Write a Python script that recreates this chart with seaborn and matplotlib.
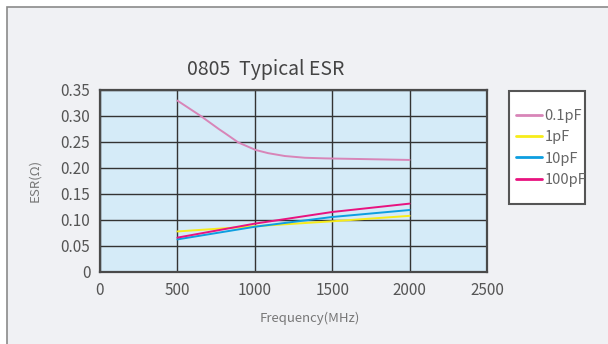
import numpy as np
import pandas as pd
import matplotlib
matplotlib.use("Agg")
import matplotlib.pyplot as plt
from matplotlib.patches import Rectangle
from matplotlib.lines import Line2D
import seaborn as sns

# ---- data ----
freq_01 = [500, 651, 769, 807, 894, 1006, 1087, 1195, 1324, 1453, 2000]
esr_01 = [0.3296, 0.300, 0.2746, 0.267, 0.249, 0.2346, 0.2285, 0.223, 0.2197, 0.2185, 0.2155]
freq_lin = [500, 1000, 1500, 2000]
esr_1 = [0.078, 0.088, 0.0975, 0.108]
esr_10 = [0.0627, 0.087, 0.1058, 0.1192]
esr_100 = [0.0661, 0.093, 0.1154, 0.1315]
series = ["0.1pF", "1pF", "10pF", "100pF"]
colors = ["#d885b8", "#f7ec1a", "#0d9ee0", "#e8137f"]
x_ticks = [0, 500, 1000, 1500, 2000, 2500]
y_ticks = [0, 0.05, 0.10, 0.15, 0.20, 0.25, 0.30, 0.35]
y_labels = ["0", "0.05", "0.10", "0.15", "0.20", "0.25", "0.30", "0.35"]

rows = []
for f, v in zip(freq_01, esr_01):
    rows.append((f, v, "0.1pF"))
for name, vals in zip(series[1:], [esr_1, esr_10, esr_100]):
    for f, v in zip(freq_lin, vals):
        rows.append((f, v, name))
df = pd.DataFrame(rows, columns=["freq", "esr", "cap"])

sns.set_style("white")
plt.rcParams["font.family"] = ["Noto Sans CJK SC", "DejaVu Sans"]
plt.rcParams["font.weight"] = "light"

W, H = 608, 344
fig = plt.figure(figsize=(W / 100, H / 100), dpi=100)
fig.patch.set_facecolor("white")

# background panel
bg = fig.add_axes([0, 0, 1, 1], zorder=-10)
bg.set_xlim(0, W)
bg.set_ylim(H, 0)
bg.axis("off")
bg.add_patch(Rectangle((7, 7), W + 20, H + 20, facecolor="#f0f1f4",
                       edgecolor="#8a8a8a", linewidth=1.2))
# legend box
bg.add_patch(Rectangle((509, 91), 585 - 509, 204 - 91, facecolor="white",
                       edgecolor="#555555", linewidth=1.5))

ax = fig.add_axes([100 / W, (H - 272) / H, (487 - 100) / W, (272 - 90) / H], zorder=5)
ax.set_facecolor("#d5ebf8")
sns.lineplot(data=df, x="freq", y="esr", hue="cap", hue_order=series,
             palette=dict(zip(series, colors)), linewidth=1.4, ax=ax,
             legend=False, sort=True, zorder=3)

ax.set_xlim(0, 2500)
ax.set_ylim(0, 0.35)
ax.set_xticks(x_ticks)
ax.set_yticks(y_ticks)
ax.set_yticklabels(y_labels)
ax.grid(True, color="#333333", linewidth=1.0, zorder=1)
ax.set_axisbelow(True)
for s in ax.spines.values():
    s.set_color("#4a4a4a")
    s.set_linewidth(1.6)
ax.tick_params(length=0, labelsize=11, labelcolor="#555555", pad=7)
ax.set_xlabel("")
ax.set_ylabel("")

fig.text(266 / W, 1 - 69 / H, "0805  Typical ESR", ha="center", va="center",
         fontsize=14, color="#444444", fontweight="light")
fig.text(310 / W, 1 - 318 / H, "Frequency(MHz)", ha="center", va="center",
         fontsize=9.5, color="#777777")
fig.text(35 / W, 1 - 180 / H, "ESR(\u03a9)", ha="center", va="center",
         fontsize=9.5, color="#777777", rotation=90)

handles = [Line2D([0], [0], color=c, lw=2) for c in colors]
leg = fig.legend(handles, series, loc="upper left",
                 bbox_to_anchor=(516 / W, 1 - 109 / H), frameon=False,
                 fontsize=10.5, labelcolor="#666666", handlelength=1.75,
                 handletextpad=0.2, labelspacing=0.5, borderpad=0,
                 borderaxespad=0)
leg.set_zorder(20)

fig.savefig("out.png", dpi=100, facecolor=fig.get_facecolor())
